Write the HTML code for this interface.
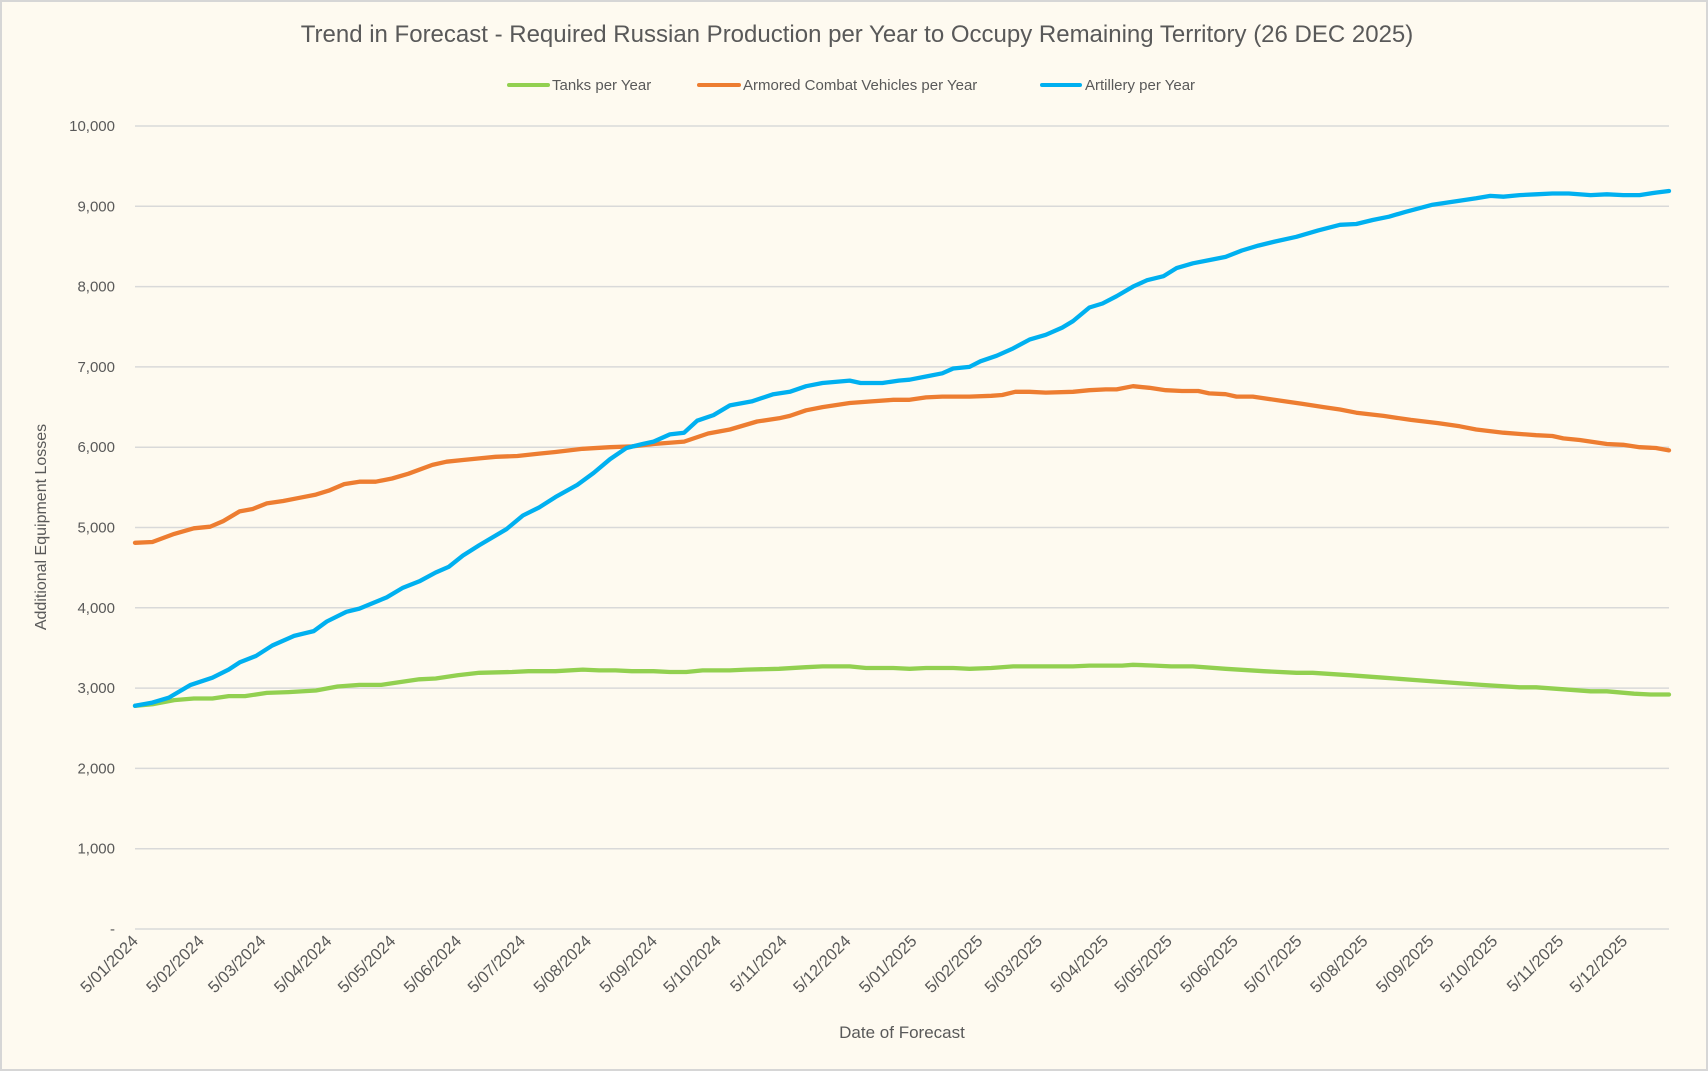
<!DOCTYPE html>
<html><head><meta charset="utf-8"><style>
html,body{margin:0;padding:0;background:#fff;}
svg{display:block;font-family:"Liberation Sans",sans-serif;}
</style></head><body>
<svg id="c" width="1708" height="1071" xmlns="http://www.w3.org/2000/svg">
<rect x="1" y="1" width="1706" height="1069" fill="#fefaf0" stroke="#d6d6d6" stroke-width="2"/>
<text x="857" y="42" text-anchor="middle" font-size="24" fill="#595959">Trend in Forecast - Required Russian Production per Year to Occupy Remaining Territory (26 DEC 2025)</text>
<g font-size="15" fill="#595959">
<line x1="509" y1="85" x2="548" y2="85" stroke="#92d050" stroke-width="4" stroke-linecap="round"/>
<text x="552" y="90">Tanks per Year</text>
<line x1="699" y1="85" x2="739" y2="85" stroke="#ed7d31" stroke-width="4" stroke-linecap="round"/>
<text x="743" y="90">Armored Combat Vehicles per Year</text>
<line x1="1042" y1="85" x2="1080" y2="85" stroke="#00b0f0" stroke-width="4" stroke-linecap="round"/>
<text x="1085" y="90">Artillery per Year</text>
</g>
<g id="grid"></g>
<g id="ylab" font-size="15" fill="#595959" text-anchor="end"></g>
<g id="xlab" font-size="16.5" fill="#595959" text-anchor="end"></g>
<text transform="translate(46,527) rotate(-90)" text-anchor="middle" font-size="16" fill="#595959">Additional Equipment Losses</text>
<text x="902" y="1038" text-anchor="middle" font-size="17" fill="#595959">Date of Forecast</text>
<g id="series" fill="none" stroke-width="4.3" stroke-linejoin="round" stroke-linecap="round"></g>
</svg>
<script>
var NS="http://www.w3.org/2000/svg";
function el(t,a,p,txt){var e=document.createElementNS(NS,t);for(var k in a)e.setAttribute(k,a[k]);if(txt)e.textContent=txt;p.appendChild(e);return e;}
var L=135,R=1669,Y0=929,K=0.0803;
var g=document.getElementById('grid'),yl=document.getElementById('ylab'),xl=document.getElementById('xlab'),s=document.getElementById('series');
for(var i=0;i<=10;i++){var y=Y0-i*1000*K;el('line',{x1:L,x2:R,y1:y,y2:y,stroke:'#d9d9d9','stroke-width':1.5},g);
el('text',{x:115,y:y+5},yl,i==0?'-':(i*1000).toLocaleString('en-US'));}
var start=Date.UTC(2024,0,5),end=Date.UTC(2025,11,26),ppd=(R-L)/((end-start)/864e5);
for(var m=0;m<24;m++){var d=Date.UTC(2024,m,5);var x=L+(d-start)/864e5*ppd;var mm=(m%12)+1;var yr=2024+Math.floor(m/12);
el('text',{transform:'translate('+(x+4)+',942) rotate(-45)'},xl,'5/'+(mm<10?'0':'')+mm+'/'+yr);}
function X(xd){return L+(xd-124)*(R-L)/1408;}
var data={
'#00b0f0':[124,2780,140,2820,155,2880,175,3040,195,3130,210,3230,220,3320,235,3400,250,3530,270,3650,288,3710,300,3830,318,3950,330,3990,355,4130,370,4250,385,4330,400,4440,412,4510,425,4650,440,4780,465,4980,480,5150,495,5250,510,5380,530,5530,545,5680,560,5850,575,5990,590,6040,600,6070,615,6160,628,6180,640,6330,655,6400,670,6520,690,6570,710,6660,725,6690,740,6760,755,6800,780,6830,790,6800,810,6800,825,6830,835,6840,850,6880,865,6920,875,6980,890,7000,900,7070,915,7140,930,7230,945,7340,960,7400,975,7490,985,7570,1000,7740,1012,7790,1025,7880,1040,8000,1053,8080,1068,8130,1080,8230,1095,8290,1110,8330,1125,8370,1140,8450,1155,8510,1170,8560,1190,8620,1210,8700,1230,8770,1245,8780,1260,8830,1275,8870,1290,8930,1315,9020,1335,9060,1355,9100,1368,9130,1380,9120,1395,9140,1410,9150,1425,9160,1440,9160,1460,9140,1475,9150,1490,9140,1505,9140,1520,9170,1532,9190],
'#ed7d31':[124,4810,140,4820,160,4920,178,4990,193,5010,205,5080,220,5200,232,5230,245,5300,260,5330,275,5370,290,5410,302,5460,316,5540,330,5570,345,5570,360,5610,375,5670,397,5780,410,5820,425,5840,440,5860,455,5880,475,5890,495,5920,510,5940,535,5980,560,6000,580,6010,600,6040,628,6070,650,6170,670,6220,695,6320,715,6360,725,6390,740,6460,755,6500,780,6550,800,6570,820,6590,835,6590,850,6620,865,6630,890,6630,910,6640,920,6650,932,6690,945,6690,960,6680,985,6690,1000,6710,1015,6720,1025,6720,1040,6760,1055,6740,1070,6710,1085,6700,1100,6700,1110,6670,1125,6660,1135,6630,1150,6630,1175,6580,1195,6540,1215,6500,1230,6470,1245,6430,1270,6390,1295,6340,1320,6300,1340,6260,1355,6220,1380,6180,1410,6150,1425,6140,1435,6110,1450,6090,1475,6040,1490,6030,1505,6000,1520,5990,1532,5960],
'#92d050':[124,2780,140,2800,160,2850,178,2870,195,2870,210,2900,225,2900,245,2940,265,2950,290,2970,310,3020,330,3040,350,3040,360,3060,385,3110,400,3120,420,3160,440,3190,470,3200,485,3210,510,3210,535,3230,550,3220,565,3220,580,3210,600,3210,615,3200,630,3200,645,3220,670,3220,685,3230,715,3240,740,3260,755,3270,780,3270,795,3250,820,3250,835,3240,850,3250,875,3250,890,3240,910,3250,930,3270,960,3270,985,3270,1000,3280,1030,3280,1040,3290,1060,3280,1075,3270,1095,3270,1125,3240,1160,3210,1190,3190,1205,3190,1240,3160,1270,3130,1300,3100,1330,3070,1360,3040,1395,3010,1410,3010,1440,2980,1460,2960,1475,2960,1500,2930,1515,2920,1532,2920]};
['#92d050','#ed7d31','#00b0f0'].forEach(function(c){var a=data[c],p=[];for(var i=0;i<a.length;i+=2)p.push(X(a[i]).toFixed(1)+','+(Y0-a[i+1]*K).toFixed(1));
el('polyline',{points:p.join(' '),stroke:c},s);});
</script>
</body></html>
